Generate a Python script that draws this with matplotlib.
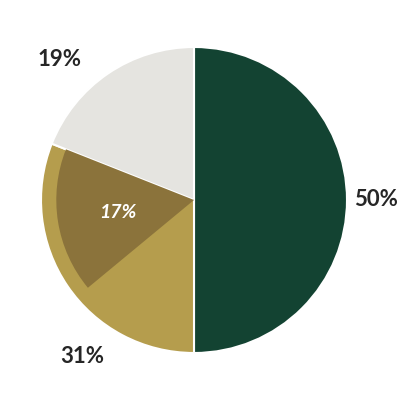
import matplotlib.pyplot as plt

# slice values (percent), clockwise from 12 o'clock
labels = ["50%", "31%", "19%"]
values = [50, 31, 19]
colors = ["#134332", "#b59d4d", "#e5e4e0"]

# darker sub-slice that sits inside the gold slice
inner_value = 17
inner_label = "17%"
inner_color = "#8b733b"

fig = plt.figure(figsize=(4.1, 4.0), dpi=100)
ax = fig.add_axes([0, 0, 1, 1])

wp = dict(edgecolor="white", linewidth=1.5, joinstyle="round")
ax.pie(values, colors=colors, startangle=90, counterclock=False,
       radius=1.0, wedgeprops=wp)

# inner wedge: last 17 points of the gold slice, smaller radius
inner_vals = [values[0] + values[1] - inner_value, inner_value, values[2]]
ax.pie(inner_vals, colors=["none", inner_color, "none"],
       startangle=90, counterclock=False, radius=0.9,
       wedgeprops=dict(linewidth=0))

font = "Lato"
txt = "#262626"
ax.text(1.19, 0.0, labels[0], ha="center", va="center", fontsize=16,
        fontweight="bold", color=txt, family=font)
ax.text(-0.73, -1.02, labels[1], ha="center", va="center", fontsize=16,
        fontweight="bold", color=txt, family=font)
ax.text(-0.88, 0.92, labels[2], ha="center", va="center", fontsize=16,
        fontweight="bold", color=txt, family=font)
ax.text(-0.5, -0.08, inner_label, ha="center", va="center", fontsize=14,
        fontweight="bold", style="italic", color="white", family=font)

r = 153.0
ax.set_xlim(-194 / r, 216 / r)
ax.set_ylim(-200 / r, 200 / r)
ax.set_aspect("auto")
ax.axis("off")

fig.savefig("out.png", dpi=100)
